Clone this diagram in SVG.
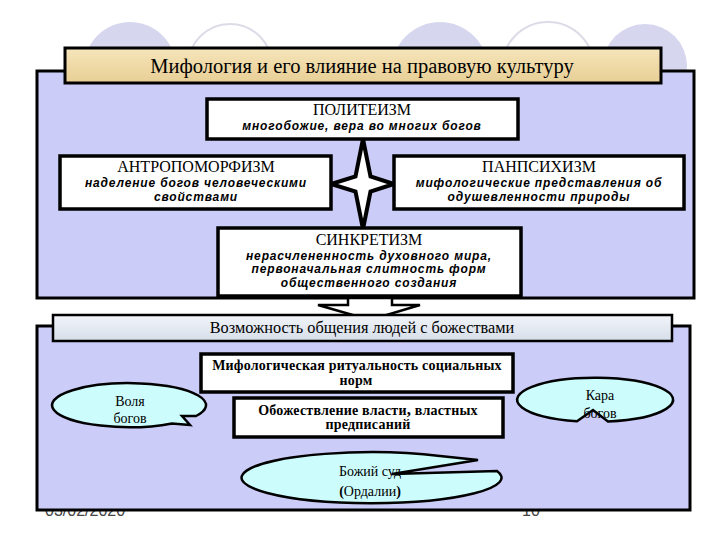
<svg xmlns="http://www.w3.org/2000/svg" width="720" height="540" viewBox="0 0 720 540">
<style>
.panel{fill:#ccccf8;stroke:#000;stroke-width:3}
.box{fill:#fff;stroke:#000;stroke-width:3.5}
.bub{fill:#ccfcfc;stroke:#000;stroke-width:2.5;stroke-linejoin:miter}
.h{font-family:"Liberation Serif",serif;font-size:16px;text-anchor:middle;fill:#000}
.d{font-family:"Liberation Sans",Arial,sans-serif;font-size:12px;letter-spacing:0.85px;font-weight:bold;font-style:italic;text-anchor:middle;fill:#000}
.b{font-family:"Liberation Serif",serif;font-size:14px;letter-spacing:0.2px;font-weight:bold;text-anchor:middle;fill:#000}
.s{font-family:"Liberation Serif",serif;font-size:14px;text-anchor:middle;fill:#000}
.foot{font-family:"Liberation Sans",Arial,sans-serif;font-size:16px;fill:#444}
</style>
<defs>
<linearGradient id="wood" x1="0" y1="0" x2="0" y2="1">
<stop offset="0" stop-color="#f6e6bd"/><stop offset="0.5" stop-color="#efd9a6"/><stop offset="1" stop-color="#e8cf97"/>
</linearGradient>
<linearGradient id="sky" x1="0" y1="0" x2="0" y2="1">
<stop offset="0" stop-color="#f2f5fa"/><stop offset="1" stop-color="#d6dee9"/>
</linearGradient>
</defs>
<rect x="0" y="0" width="720" height="540" fill="#fff"/>
<g id="background">
<circle cx="130" cy="68" r="46" fill="#d6d6ef"/>
<circle cx="230" cy="66" r="42" fill="#fff" stroke="#dcdce8" stroke-width="2"/>
<circle cx="440" cy="70" r="48" fill="#d6d6ef"/>
<circle cx="548" cy="68" r="46" fill="#fff" stroke="#dcdce8" stroke-width="2"/>
<circle cx="645" cy="66" r="42" fill="#d6d6ef"/>
<text class="foot" x="45" y="516">03/02/2020</text>
<text class="foot" x="522" y="516">10</text>
</g>
<g id="upper-panel">
<rect class="panel" x="37" y="71" width="657" height="227"/>
</g>
<g id="title">
<rect x="65" y="48" width="596" height="35" fill="url(#wood)" stroke="#000" stroke-width="3"/>
<text x="362" y="73" font-family="Liberation Serif, serif" font-size="20.5" text-anchor="middle">Мифология и его влияние на правовую культуру</text>
</g>
<g id="connectors">
<path d="M363 139 L370.5 176.5 L394 184 L370.5 191.5 L363 229 L355.5 191.5 L331 184 L355.5 176.5 Z" fill="#fff" stroke="#000" stroke-width="4" stroke-linejoin="miter"/>
</g>
<g id="politeism">
<rect class="box" x="207" y="99" width="311" height="40"/>
<text class="h" x="362" y="115">ПОЛИТЕИЗМ</text>
<text class="d" x="362" y="130">многобожие, вера во многих богов</text>
</g>
<g id="antropomorfizm">
<rect class="box" x="60" y="156" width="271" height="53"/>
<text class="h" x="196" y="172">АНТРОПОМОРФИЗМ</text>
<text class="d" x="196" y="187">наделение богов человеческими</text>
<text class="d" x="196" y="200.5">свойствами</text>
</g>
<g id="panpsihizm">
<rect class="box" x="394" y="156" width="290" height="53"/>
<text class="h" x="539" y="172">ПАНПСИХИЗМ</text>
<text class="d" x="539" y="187">мифологические представления об</text>
<text class="d" x="539" y="200.5">одушевленности природы</text>
</g>
<g id="sinkretizm">
<rect class="box" x="218" y="228" width="303" height="68"/>
<text class="h" x="369" y="245">СИНКРЕТИЗМ</text>
<text class="d" x="369" y="259.5">нерасчлененность духовного мира,</text>
<text class="d" x="369" y="273">первоначальная слитность форм</text>
<text class="d" x="369" y="286.5">общественного создания</text>
</g>
<g id="lower-panel">
<rect class="panel" x="37" y="326" width="653" height="184"/>
</g>
<g id="arrow">
<path d="M348 298 L392 298 L392 305 L420 305 L370 320 L318 305 L348 305 Z" fill="#fff" stroke="#000" stroke-width="2.5" stroke-linejoin="miter"/>
</g>
<g id="subtitle">
<rect x="53" y="315" width="619" height="26" fill="url(#sky)" stroke="#000" stroke-width="2.5"/>
<text x="362" y="333" font-family="Liberation Serif, serif" font-size="16.3" text-anchor="middle">Возможность общения людей с божествами</text>
</g>
<g id="ritual">
<rect class="box" x="201" y="354" width="312" height="38"/>
<text class="b" x="357" y="370">Мифологическая ритуальность социальных</text>
<text class="b" x="356" y="385">норм</text>
</g>
<g id="obozhestvlenie">
<rect class="box" x="234" y="398" width="269" height="39"/>
<text class="b" x="368" y="415">Обожествление власти<tspan font-size="17">,</tspan> властных</text>
<text class="b" x="368" y="429">предписаний</text>
</g>
<g id="volya">
<path class="bub" d="M196 416 A77 22 0 1 0 172 423.4 L190 425 L182 416 Z"/>
<text class="s" x="130" y="406">Воля</text>
<text class="s" x="130" y="423">богов</text>
</g>
<g id="kara">
<path class="bub" d="M608 421.5 A78 22 0 1 0 577 421.2 L593 410 Z"/>
<text class="s" x="600" y="400">Кара</text>
<text class="s" x="600" y="418">богов</text>
</g>
<g id="bozhiy-sud">
<path class="bub" d="M497 471 A130 25.5 0 1 1 440 456 L478 460 L392 474 Z"/>
<text class="s" x="370" y="476" font-size="15">Божий суд</text>
<text class="s" x="370" y="496" font-size="15"><tspan font-weight="bold">(</tspan>Ордалии<tspan font-weight="bold">)</tspan></text>
</g>
</svg>
